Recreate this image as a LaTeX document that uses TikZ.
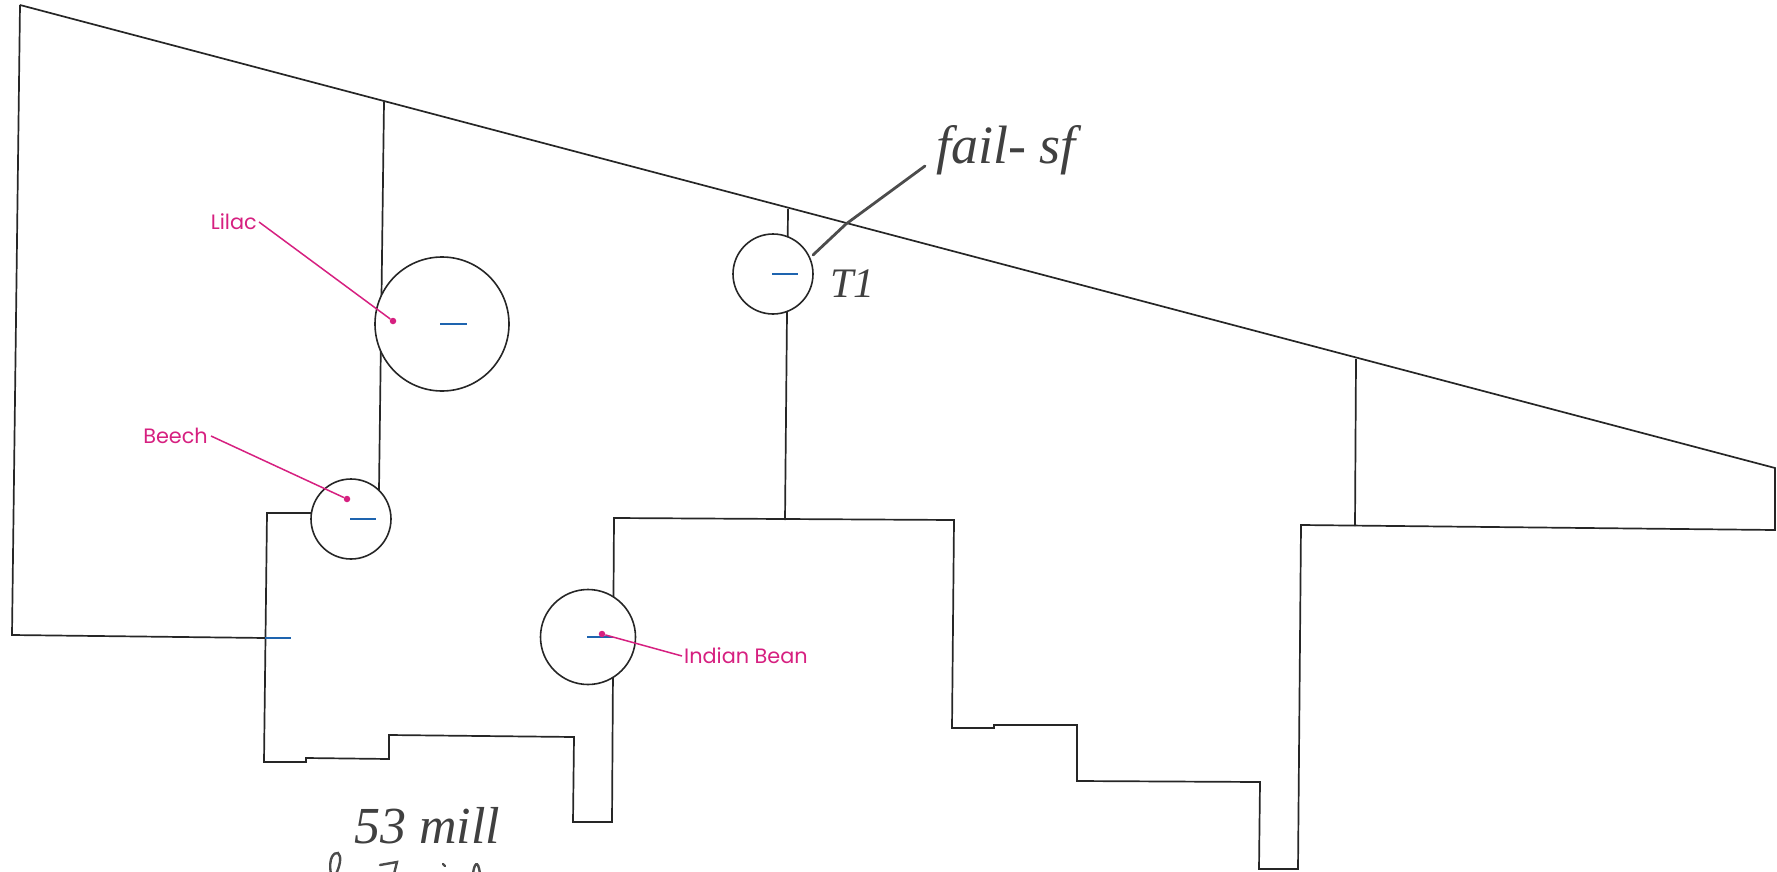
\documentclass[tikz,border=0pt]{standalone}
\usepackage{fontspec}
\setmainfont{Poppins}
\newfontfamily\handfont{Liberation Serif}
\definecolor{pinkc}{RGB}{214,32,128}
\definecolor{bluec}{RGB}{30,100,175}
\tikzset{
  wall/.style={draw=black!85,line width=1.7pt},
  tree/.style={circle,draw=black!85,line width=1.6pt,inner sep=0pt,minimum size=#1,fill=white},
  mark dash/.style={draw=bluec,line width=2pt},
  leader/.style={draw=pinkc,line width=1.5pt},
  pinklabel/.style={text=pinkc,font=\fontsize{20.8}{24}\selectfont,inner sep=0pt},
  pinkdot/.style={circle,fill=pinkc,inner sep=0pt,minimum size=6.5pt},
  hand/.style={text=black!75,inner sep=0pt},
  pen/.style={draw=black!70,line width=2.4pt,line cap=round}
}
\begin{document}
\begin{tikzpicture}[x=1pt,y=-1pt]
\useasboundingbox (0,0) rectangle (1777,872);
\clip (0,0) rectangle (1777,872);
% outline
\coordinate (tl) at (20,5);
\coordinate (tr) at (1775,468);
\draw[wall,line join=miter] (tl) -- (tr) -- (1775,530) -- (1301,525) -- (1298,869) -- (1259,869) -- (1260,782) -- (1077,781) -- (1077,725) -- (994,725) -- (994,728) -- (952,728) -- (954,520) -- (614,518) -- (612,822) -- (573,822) -- (574,737) -- (389,735) -- (389,759) -- (306,758) -- (306,762) -- (264,762) -- (267,513) -- (311,513);
\draw[wall] (tl) -- (12,635) -- (266,638);
% internal walls
\coordinate (w1t) at (384,102);
\coordinate (w1b) at (379,490);
\draw[wall] (w1t) -- (w1b);
\coordinate (w2t) at (788,209);
\coordinate (w2b) at (785,520);
\draw[wall] (w2t) -- (w2b);
\coordinate (w3t) at (1356,359);
\coordinate (w3b) at (1355,526);
\draw[wall] (w3t) -- (w3b);
% trees
\node[tree=134pt] (lilac) at (442,324) {};
\node[tree=80pt] (beech) at (351,519) {};
\node[tree=80pt] (t1) at (773,274) {};
\node[tree=95pt] (bean) at (588,637) {};
% blue dashes
\draw[mark dash] (440,324) -- (467,324);
\draw[mark dash] (350,519) -- (376,519);
\draw[mark dash] (772,274) -- (798,274);
\draw[mark dash] (587,637) -- (613,637);
\draw[mark dash] (265,638) -- (291,638);
% pink
\node[pinklabel,anchor=east] (lilacl) at (257,222) {Lilac};
\node[pinklabel,anchor=east] (beechl) at (208,436) {Beech};
\node[pinklabel,anchor=west] (beanl) at (684,656) {Indian Bean};
\node[pinkdot] (d1) at (393,321) {};
\node[pinkdot] (d2) at (347,499) {};
\node[pinkdot] (d3) at (602,634) {};
\draw[leader] (lilacl.east) ++(2,0) -- (d1);
\draw[leader] (beechl.east) ++(3,0) -- (d2);
\draw[leader] (beanl.west) ++(-2,0) -- (d3);
% handwriting
\node[hand,anchor=west,font=\handfont\itshape\fontsize{54}{60}\selectfont] (note) at (936,150) {fail- sf};
\node[hand,anchor=west,font=\handfont\itshape\fontsize{42}{48}\selectfont] (tone) at (830,284) {T1};
\node[hand,anchor=west,font=\handfont\itshape\fontsize{52}{60}\selectfont] (mill) at (354,826) {53 mill};
\coordinate (ha) at (813,255);
\coordinate (hm) at (846,224);
\coordinate (hb) at (925,166);
\draw[pen,line width=2.8pt] (ha) -- (hm) -- (hb);
% cut-off second handwritten line at the lower edge
\draw[pen] (331,874) .. controls (328,858) and (334,852) .. (338,853) .. controls (342,856) and (340,866) .. (336,874);
\draw[pen] (380,865) -- (397,862) -- (394,874);
\draw[pen] (443,864) -- (445,866);
\draw[pen] (473,874) .. controls (474,864) and (478,858) .. (480,874);
\end{tikzpicture}
\end{document}
